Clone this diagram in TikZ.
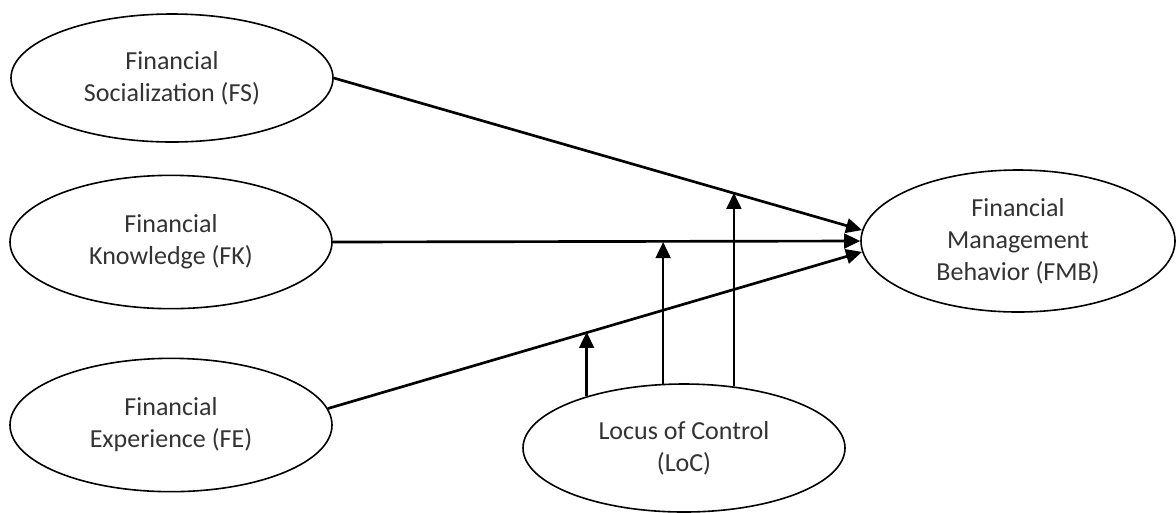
\documentclass[tikz,border=0pt]{standalone}
\usepackage{fontspec}
\setmainfont{Carlito}
\usetikzlibrary{arrows.meta,shapes.geometric}

\begin{document}
\begin{tikzpicture}[
  x=0.75pt, y=-0.75pt,
  font=\fontsize{19.5}{24}\selectfont,
  var/.style={draw=black, line width=1.2pt, ellipse, fill=white,
              inner sep=0pt, align=center, text=black!80,
              minimum width=241.5pt, minimum height=98pt},
  eff/.style={draw=black, line width=2pt,
              -{Triangle[length=12pt,width=11pt]}},
  mod/.style={eff},
]
\useasboundingbox (0,0) rectangle (1176,512);

% ---------- constructs ----------
\node[var, minimum height=96pt] (FS) at (172,78) {Financial\\Socialization (FS)};
\node[var, minimum height=100pt] (FK) at (171,242) {Financial\\Knowledge (FK)};
\node[var, minimum height=100pt] (FE) at (171,425) {Financial\\Experience (FE)};
\node[var, minimum width=235.5pt, minimum height=106.5pt] (FMB) at (1018,241)
  {Financial\\Management\\Behavior (FMB)};
\node[var, minimum height=96pt] (LoC) at (684,448) {Locus of Control\\(LoC)};

% ---------- direct effects ----------
\draw[eff] (FS.east) -- coordinate[pos=0.755] (onFS) (FMB.176);
\draw[eff] (FK.east) -- (FMB.west);
\draw[eff] (FE.6) -- coordinate[pos=0.489] (onFE) (FMB.184);

% ---------- moderation by LoC ----------
\draw[mod] (LoC.152) -- (LoC.152 |- onFE);
\draw[mod] (LoC.108) -- (LoC.108 |- FK.east);
\draw[mod] (LoC.51) -- (LoC.51 |- onFS);

\end{tikzpicture}
\end{document}
